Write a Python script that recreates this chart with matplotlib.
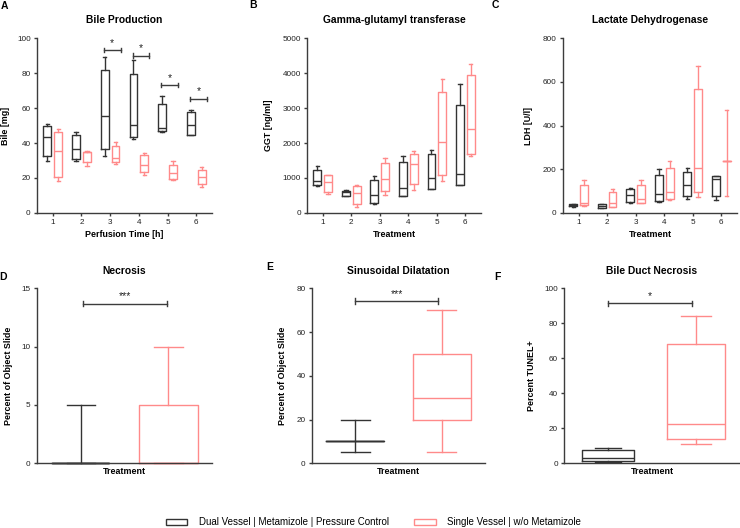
import numpy as np
import matplotlib
matplotlib.use("Agg")
import matplotlib.pyplot as plt
from matplotlib.patches import Patch

plt.rcParams['font.family'] = ['Liberation Sans', 'DejaVu Sans']

# (min, q1, median, q3, max) per group
hours = [1, 2, 3, 4, 5, 6]
bile_dual = [(30, 32.4, 43.4, 50, 51), (30, 31, 36.4, 44.4, 46.3), (32.6, 36.8, 55.2, 82, 89.3),
             (42.1, 43.2, 50.5, 79.2, 87.6), (46.3, 46.7, 48.8, 62.5, 66.9), (44.4, 44.4, 50.1, 57.7, 58.9)]
bile_single = [(18.3, 20.6, 35.6, 46.5, 48), (26.9, 29, 34.7, 35, 35.4), (28, 29, 31.2, 38.5, 40.8),
               (21.9, 23.4, 27.4, 33.1, 34.3), (19, 19.6, 22.9, 27.6, 29.7), (14.9, 16.4, 20.6, 24.4, 26.1)]
bile_sig_hours = [3, 4, 5, 6]
bile_sig_y = [93, 90, 73, 65.3]

ggt_dual = [(762, 790, 905, 1238, 1333), (476, 495, 590, 619, 647), (248, 286, 505, 952, 1047),
            (476, 485, 725, 1445, 1630), (690, 693, 1000, 1680, 1812), (800, 800, 1115, 3100, 3678)]
ggt_single = [(543, 600, 885, 1085, 1095), (171, 248, 571, 762, 800), (524, 619, 971, 1430, 1571),
              (665, 840, 1408, 1698, 1760), (913, 1084, 2022, 3453, 3825), (1636, 1693, 2398, 3940, 4270)]

ldh_dual = [(29, 30.5, 35, 39.6, 42.7), (22.9, 24.4, 32, 39.6, 42.7), (45.7, 51.8, 82.3, 109.8, 112.8),
            (48.8, 53.4, 86.9, 175.3, 199.7), (65.5, 76.2, 128, 186, 204.3), (58, 76.2, 154, 167.7, 167.7)]
ldh_single = [(33.5, 35, 47, 126.5, 149), (26, 27.4, 44.2, 94.5, 109.8), (44.2, 47.3, 64, 129.6, 151),
              (61, 64, 94.5, 205.8, 236), (74.7, 94.5, 205.8, 567, 670.7), (76.2, 236, 236, 236, 472.6)]

necrosis = [(0, 0, 0, 0, 5), (0, 0, 0, 5, 10)]
sinus = [(5, 10, 10, 10, 20), (5, 20, 30, 50, 70)]
bdn = [(1, 1.5, 3, 7.6, 9), (11, 13.7, 22.3, 68.4, 84)]

black = '#333333'
red = '#FF8A8A'
spine_c = '#3c3c3c'
lw = 1.0


def stats(t):
    return dict(whislo=t[0], q1=t[1], med=t[2], q3=t[3], whishi=t[4], fliers=[])


def draw_boxes(ax, data, pos, color, width, capw):
    props = dict(color=color, lw=lw)
    arts = ax.bxp([stats(t) for t in data], positions=pos, widths=width, capwidths=capw,
                  showfliers=False, boxprops=props, medianprops=props,
                  whiskerprops=props, capprops=props, manage_ticks=False)
    for k in arts:
        for a in arts[k]:
            a.set_clip_on(False)


def style(ax, ylim, step, title, ylabel, xlabel, ylx, xly):
    ax.set_ylim(0, ylim)
    ax.set_yticks(np.arange(0, ylim + step / 2, step))
    for s in ['top', 'right']:
        ax.spines[s].set_visible(False)
    for s in ['left', 'bottom']:
        ax.spines[s].set_color(spine_c)
        ax.spines[s].set_linewidth(1.0)
    ax.tick_params(axis='both', labelsize=5.9, colors=spine_c, length=2.5, width=1.0, pad=2,
                   labelcolor='#222222')
    ax.set_title(title, fontsize=7.4, fontweight='bold', pad=10.5)
    ax.set_ylabel(ylabel, fontsize=6.4, fontweight='bold')
    ax.yaxis.set_label_coords(ylx, 0.5)
    ax.set_xlabel(xlabel, fontsize=6.4, fontweight='bold')
    ax.xaxis.set_label_coords(0.5, xly)


def sig_bar(ax, x1, x2, y, txt, h, star_off):
    ax.plot([x1, x2], [y, y], color=spine_c, lw=1.0, clip_on=False)
    for x in (x1, x2):
        ax.plot([x, x], [y - h, y + h], color=spine_c, lw=1.0, clip_on=False)
    ax.text((x1 + x2) / 2, y + star_off, txt, ha='center', va='center', fontsize=7.5, color='#222222')


fig = plt.figure(figsize=(7.4, 5.28), dpi=100)

top_b = 0.5966
bot_b = 0.1225
h = 0.3314
axA = fig.add_axes([0.0500, top_b, 0.2365, h])
axB = fig.add_axes([0.4149, top_b, 0.2351, h])
axC = fig.add_axes([0.7608, top_b, 0.2351, h])
axD = fig.add_axes([0.0500, bot_b, 0.2365, h])
axE = fig.add_axes([0.4216, bot_b, 0.2338, h])
axF = fig.add_axes([0.7622, bot_b, 0.2378, h])

hx = np.array(hours)
off = 0.19
for ax, d1, d2 in [(axA, bile_dual, bile_single), (axB, ggt_dual, ggt_single), (axC, ldh_dual, ldh_single)]:
    draw_boxes(ax, d1, hx - off, black, 0.27, 0.12)
    draw_boxes(ax, d2, hx + off, red, 0.27, 0.12)
    ax.set_xlim(0.45, 6.55)
    ax.set_xticks(hours)

style(axA, 100, 20, 'Bile Production', 'Bile [mg]', 'Perfusion Time [h]', -0.154, -0.095)
style(axB, 5000, 1000, 'Gamma-glutamyl transferase', 'GGT [ng/ml]', 'Treatment', -0.195, -0.095)
style(axC, 800, 200, 'Lactate Dehydrogenase', 'LDH [U/l]', 'Treatment', -0.172, -0.095)

for hr, y in zip(bile_sig_hours, bile_sig_y):
    sig_bar(axA, hr - 0.22, hr + 0.37, y, '*', 1.2, 4.3)

groups = [1, 2]
for ax, data, widths, ylim, step, title, ylabel, ylx in [
        (axD, necrosis, [0.65, 0.67], 15, 5, 'Necrosis', 'Percent of Object Slide', -0.137),
        (axE, sinus, [0.67, 0.67], 80, 20, 'Sinusoidal Dilatation', 'Percent of Object Slide', -0.145),
        (axF, bdn, [0.59, 0.67], 100, 20, 'Bile Duct Necrosis', 'Percent TUNEL+', -0.159)]:
    draw_boxes(ax, [data[0]], [groups[0]], black, widths[0], widths[0] / 2)
    draw_boxes(ax, [data[1]], [groups[1]], red, widths[1], widths[1] / 2)
    ax.set_xlim(0.5, 2.5)
    ax.set_xticks([])
    style(ax, ylim, step, title, ylabel, 'Treatment', ylx, -0.02)

sig_bar(axD, 1.02, 1.98, 13.7, '***', 0.25, 0.6)
sig_bar(axE, 1.0, 1.96, 74.3, '***', 1.3, 3.2)
sig_bar(axF, 1.0, 1.96, 91.4, '*', 1.6, 4.0)

for lab, x, y in [('A', 4.5, 6), ('B', 253.5, 5.5), ('C', 495, 5.5),
                  ('D', 3.5, 276.7), ('E', 270, 267.3), ('F', 497, 276.7)]:
    fig.text(x / 740, 1 - y / 528, lab, fontsize=7.5, fontweight='bold', ha='center', va='center')

handles = [Patch(facecolor='white', edgecolor=black, lw=1.0),
           Patch(facecolor='white', edgecolor=red, lw=1.0)]
fig.legend(handles, ['Dual Vessel | Metamizole | Pressure Control', 'Single Vessel | w/o Metamizole'],
           loc='center', bbox_to_anchor=(0.505, 1 - 522.3 / 528), ncol=2, frameon=False,
           fontsize=7.0, handlelength=2.2, handleheight=0.6, handletextpad=1.2, columnspacing=2.6)

fig.savefig('out.png', dpi=100)
